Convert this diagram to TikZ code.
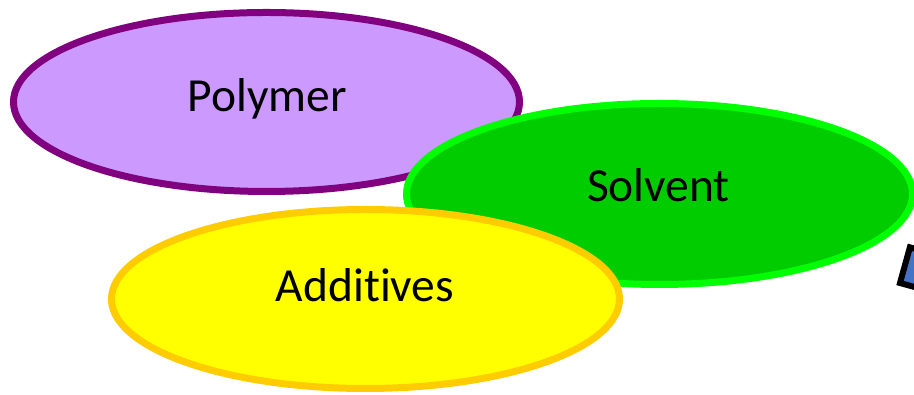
\documentclass[tikz,border=0pt]{standalone}
\usepackage{fontspec}
\setmainfont[Ligatures=NoCommon]{Carlito}
\usetikzlibrary{shapes.geometric}
\definecolor{polyfill}{HTML}{CC99FF}
\definecolor{polyline}{HTML}{800080}
\definecolor{solvfill}{HTML}{00CC00}
\definecolor{solvline}{HTML}{00FF00}
\definecolor{addfill}{HTML}{FFFF00}
\definecolor{addline}{HTML}{FFCC00}
\definecolor{boxblue}{HTML}{4472C4}
\tikzset{
  blob/.style={ellipse, line width=7pt, inner sep=0pt},
  lbl/.style={anchor=base, inner sep=0pt, font=\fontsize{47.5}{56}\selectfont}
}
\begin{document}
\begin{tikzpicture}[x=1pt, y=1pt]
\useasboundingbox (0,0) rectangle (914,395);
\clip (0,0) rectangle (914,395);
% partly visible box at the right edge
\draw[line width=6pt, fill=boxblue, rotate around={-15.5:(900,112)}]
  (900,112) rectangle (970,149);
% three overlapping ellipses
\node[blob, draw=polyline, fill=polyfill, minimum width=506pt, minimum height=179pt] (poly) at (266.5,293) {};
\node[blob, draw=solvline, fill=solvfill, minimum width=506pt, minimum height=181pt] (solv) at (659.5,201) {};
\node[blob, draw=addline, fill=addfill, minimum width=508pt, minimum height=179pt] (add) at (365.5,96) {};
% labels
\node[lbl] (tpoly) at (267.5,283) {Polymer};
\node[lbl] (tsolv) at (658.5,193) {Solvent};
\node[lbl] (tadd) at (365,93) {Additives};
\end{tikzpicture}
\end{document}
